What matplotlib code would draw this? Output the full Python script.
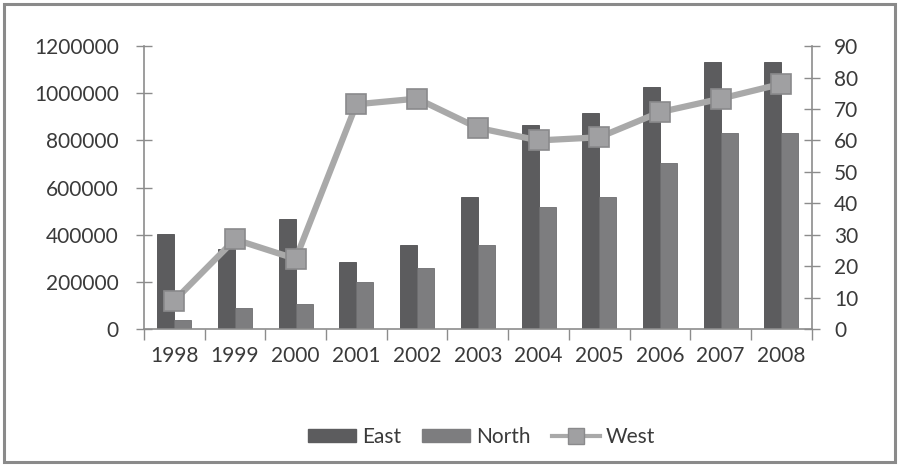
import numpy as np
import matplotlib.pyplot as plt
from matplotlib.patches import Rectangle
from matplotlib.lines import Line2D

plt.rcParams['font.family'] = ['Lato', 'DejaVu Sans']

# data
years = ['1998', '1999', '2000', '2001', '2002', '2003', '2004', '2005', '2006', '2007', '2008']
east = [405000, 340000, 465000, 285000, 355000, 560000, 865000, 915000, 1025000, 1132000, 1132000]
north = [38000, 90000, 105000, 200000, 258000, 356000, 517000, 560000, 703000, 830000, 833000]
west = [9, 28.5, 22.3, 71.5, 73.3, 64, 60, 61, 69, 73.3, 78]

axis_col = '#8c8c8c'
text_col = '#3a3a3a'

fig = plt.figure(figsize=(8.99, 4.66), dpi=100)
fig.patch.set_facecolor('white')
fig.patches.append(Rectangle((0.005, 0.008), 0.99, 0.984, transform=fig.transFigure,
                             fill=False, edgecolor='#8a8a8a', linewidth=2.2))

ax = fig.add_axes([0.160, 0.294, 0.743, 0.607])
x = np.arange(len(years))
w = 0.28
ax.bar(x - w/2, east, w, color='#5c5c5e', edgecolor='#4e4e50', linewidth=0.6, label='East', zorder=2)
ax.bar(x + w/2, north, w, color='#7d7d7f', edgecolor='#6e6e70', linewidth=0.6, label='North', zorder=2)
ax.set_ylim(0, 1200000)
ax.set_xlim(-0.5, len(years) - 0.5)
ax.set_yticks(np.arange(0, 1200001, 200000))
ax.set_yticklabels([str(v) for v in range(0, 1200001, 200000)])

# category boundary ticks, labels on the centres
ax.set_xticks(np.arange(-0.5, len(years), 1.0))
ax.set_xticklabels([])
ax.set_xticks(x, minor=True)
ax.set_xticklabels(years, minor=True)
ax.tick_params(axis='x', which='major', direction='out', length=8, color=axis_col, width=1)
ax.tick_params(axis='x', which='minor', length=0, pad=12, labelsize=15, labelcolor=text_col)
ax.tick_params(axis='y', direction='inout', length=12, color=axis_col, width=1,
               labelsize=15, labelcolor=text_col, pad=12)

for s in ['top', 'right']:
    ax.spines[s].set_visible(False)
for s in ['left', 'bottom']:
    ax.spines[s].set_color(axis_col)
    ax.spines[s].set_linewidth(1.2)

ax2 = ax.twinx()
ax2.plot(x, west, color='#a9a9a9', linewidth=4.5, marker='s', markersize=14,
         markerfacecolor='#a0a0a2', markeredgecolor='#8a8a8c', markeredgewidth=1.2,
         label='West', zorder=3)
ax2.set_ylim(0, 90)
ax2.set_yticks(np.arange(0, 91, 10))
ax2.tick_params(axis='y', direction='inout', length=12, color=axis_col, width=1,
                labelsize=15, labelcolor=text_col, pad=10)
for s in ['top', 'left', 'bottom']:
    ax2.spines[s].set_visible(False)
ax2.spines['right'].set_color(axis_col)
ax2.spines['right'].set_linewidth(1.2)

handles = [Rectangle((0, 0), 1, 1, color='#5c5c5e'),
           Rectangle((0, 0), 1, 1, color='#7d7d7f'),
           Line2D([], [], color='#a9a9a9', linewidth=3, marker='s', markersize=11,
                  markerfacecolor='#a0a0a2', markeredgecolor='#8a8a8c')]
fig.legend(handles, ['East', 'North', 'West'], loc='center', bbox_to_anchor=(0.536, 0.062),
           ncol=3, frameon=False, fontsize=15, handlelength=2.3, handleheight=0.6,
           columnspacing=1.0, handletextpad=0.3, labelcolor=text_col)

fig.savefig('out.png', dpi=100)
